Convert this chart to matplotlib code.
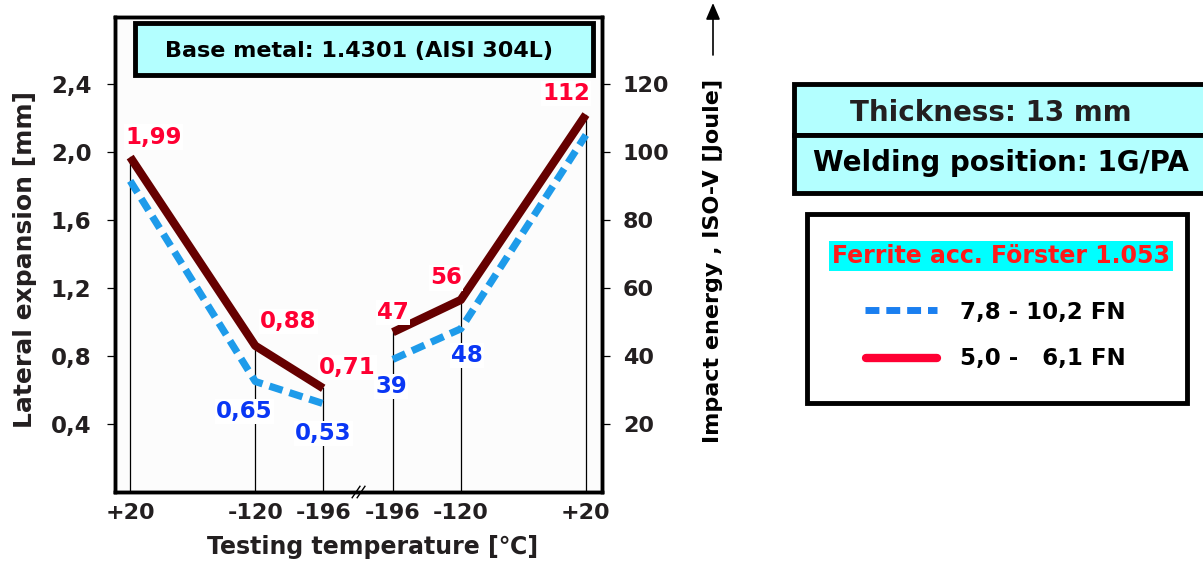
import matplotlib
matplotlib.use("Agg")
import matplotlib.pyplot as plt
from matplotlib.patches import Rectangle, FancyArrowPatch
from matplotlib.lines import Line2D

plt.rcParams['font.family'] = ['DejaVu Sans']
plt.rcParams['font.weight'] = 'bold'

# ---------------- data ----------------
temps_left = [20, -120, -196]          # lateral expansion half
temps_right = [-196, -120, 20]         # impact energy half
tick_labels = ["+20", "-120", "-196", "-196", "-120", "+20"]

lat_high = [1.83, 0.65, 0.52]          # 7,8 - 10,2 FN
lat_low = [1.97, 0.86, 0.61]           # 5,0 - 6,1 FN
lat_high_labels = [None, "0,65", "0,53"]
lat_low_labels = ["1,99", "0,88", "0,71"]

imp_high = [39, 48, 105]               # 7,8 - 10,2 FN
imp_low = [47, 56.5, 111]              # 5,0 - 6,1 FN
imp_high_labels = ["39", "48", None]
imp_low_labels = ["47", "56", "112"]

left_ticks = [0.4, 0.8, 1.2, 1.6, 2.0, 2.4]
left_ticklabels = ["0,4", "0,8", "1,2", "1,6", "2,0", "2,4"]
right_ticks = [20, 40, 60, 80, 100, 120]

# ---------------- style ----------------
RED_LINE = "#660000"
BLUE_LINE = "#1e9bea"
RED_TXT = "#ff0033"
BLUE_TXT = "#0a37f5"
CYAN = "#b3ffff"
DARK = "#231f20"
GAP = 78  # axis gap between the two halves (in temperature units)

# map temperatures to axis coordinates
x_left = [20 - t for t in temps_left]
base_right = x_left[-1] + GAP
x_right = [base_right + (t - temps_right[0]) for t in temps_right]
x_all = x_left + x_right

fig = plt.figure(figsize=(12.03, 5.62), dpi=100)
ax = fig.add_axes([115 / 1203, 70 / 562, 487 / 1203, 475 / 562])
ax.set_facecolor("#fcfcfc")
ax.set_xlim(-17, 528)
ax.set_ylim(0, 2.794)
ax2 = ax.twinx()
ax2.set_ylim(0, 2.794 * 50)

for sp in list(ax.spines.values()) + list(ax2.spines.values()):
    sp.set_linewidth(2.5)

# vertical guide lines
for x, v in zip(x_left, [max(a, b) for a, b in zip(lat_high, lat_low)]):
    ax.plot([x, x], [0, v], color="black", lw=0.9, zorder=1)
for x, v in zip(x_right, [max(a, b) for a, b in zip(imp_high, imp_low)]):
    ax2.plot([x, x], [0, v], color="black", lw=0.9, zorder=1)

# series
ax.plot(x_left, lat_high, color=BLUE_LINE, lw=5.2, ls=(0, (1.9, 1.0)), zorder=3)
ax.plot(x_left, lat_low, color=RED_LINE, lw=6, solid_capstyle="butt", zorder=4)
ax2.plot(x_right, imp_high, color=BLUE_LINE, lw=5.2, ls=(0, (1.9, 1.0)), zorder=3)
ax2.plot(x_right, imp_low, color=RED_LINE, lw=6, solid_capstyle="butt", zorder=4)

lab_fs = 16.5
bbox_w = dict(boxstyle="square,pad=0.05", fc="white", ec="none")
# label offsets in pixels (layout)
off_low_left = [(23, 20), (33, 24), (24, 21)]
off_high_left = [None, (-11, -30), (0, -30)]
off_low_right = [(0, 20), (-15, 22), (-20, 21)]
off_high_right = [(-2, -27), (6, -27), None]

def put(axis, xs, ys, labels, offs, color):
    for x, y, t, o in zip(xs, ys, labels, offs):
        if t is None:
            continue
        axis.annotate(t, (x, y), xytext=o, textcoords="offset pixels",
                      ha="center", va="center", color=color, fontsize=lab_fs,
                      fontweight="bold", bbox=bbox_w, zorder=6)

put(ax, x_left, lat_low, lat_low_labels, off_low_left, RED_TXT)
put(ax, x_left, lat_high, lat_high_labels, off_high_left, BLUE_TXT)
put(ax2, x_right, imp_low, imp_low_labels, off_low_right, RED_TXT)
put(ax2, x_right, imp_high, imp_high_labels, off_high_right, BLUE_TXT)

# ticks
ax.set_xticks(x_all)
ax.set_xticklabels(tick_labels, fontsize=16, fontweight="bold", color=DARK)
ax.tick_params(axis="x", length=0, pad=8)
ax.set_yticks(left_ticks)
ax.set_yticklabels(left_ticklabels, fontsize=16.5, fontweight="bold", color=DARK)
ax.tick_params(axis="y", length=6, width=0.9, direction="out", pad=11)
ax2.set_yticks(right_ticks)
ax2.set_yticklabels([str(v) for v in right_ticks], fontsize=16, fontweight="bold", color=DARK)
ax2.tick_params(axis="y", length=6, width=0.9, direction="out", pad=9)

ax.set_xlabel("Testing temperature [℃]", fontsize=17, fontweight="bold", color=DARK)
ax.xaxis.label.set_va("center")
ax.xaxis.set_label_coords(0.528, -0.116)
ax.set_ylabel("Lateral expansion [mm]", fontsize=18, fontweight="bold", color=DARK)
ax.yaxis.label.set_va("center")
ax.yaxis.set_label_coords(-0.185, 0.49)

# right label and arrow
fig.text(713 / 1203, 1 - 261 / 562, "Impact energy , ISO-V [Joule]", rotation=90,
         ha="center", va="center", fontsize=16, fontweight="bold", color="black")
fig.add_artist(FancyArrowPatch(
    (713 / 1203, 1 - 55 / 562), (713 / 1203, 1 - 3 / 562),
    transform=fig.transFigure, arrowstyle="-|>,head_length=10,head_width=4.3",
    color="black", lw=1.2, shrinkA=0, shrinkB=0))

# axis break mark
for dx in (0, 5):
    ax.plot([0.487 + dx / 487, 0.503 + dx / 487], [-0.012, 0.012],
            transform=ax.transAxes, color="black", lw=1, clip_on=False, zorder=7)

# title box inside plot
ax.text(0.5, 1 - 34 / 475, "Base metal: 1.4301 (AISI 304L)", transform=ax.transAxes,
        ha="center", va="center", fontsize=16, fontweight="bold", color="black",
        zorder=8)
ax.add_patch(Rectangle((20 / 487, 1 - 58 / 475), 458 / 487, 52 / 475,
                       transform=ax.transAxes, fc=CYAN, ec="black", lw=3.5,
                       zorder=7, clip_on=False))

# right info boxes
def fbox(x0, y0, x1, y1, fc, lw=3.5):
    fig.add_artist(Rectangle((x0 / 1203, 1 - y1 / 562), (x1 - x0) / 1203,
                             (y1 - y0) / 562, transform=fig.transFigure,
                             fc=fc, ec="black", lw=lw))

fbox(794, 84, 1210, 135, CYAN)
fbox(794, 135, 1210, 193, CYAN)
fig.text(991 / 1203, 1 - 113 / 562, "Thickness: 13 mm", ha="center", va="center",
         fontsize=20, fontweight="bold", color=DARK)
fig.text(1001 / 1203, 1 - 163 / 562, "Welding position: 1G/PA", ha="center",
         va="center", fontsize=20, fontweight="bold", color="black")

fbox(807, 214, 1187, 403, "white")
fig.text(1001 / 1203, 1 - 256 / 562, "Ferrite acc. Förster 1.053", ha="center",
         va="center", fontsize=17, fontweight="bold", color="#ff1a1a",
         bbox=dict(boxstyle="square,pad=0.12", fc="#00ffff", ec="none"))
fig.add_artist(Line2D([865 / 1203, 937 / 1203], [1 - 310 / 562, 1 - 310 / 562],
                      transform=fig.transFigure, color="#1a7ff0", lw=5,
                      ls=(0, (2.0, 1.0))))
fig.add_artist(Line2D([866 / 1203, 937 / 1203], [1 - 358 / 562, 1 - 358 / 562],
                      transform=fig.transFigure, color=RED_TXT, lw=6,
                      solid_capstyle="round"))
fig.text(960 / 1203, 1 - 312 / 562, "7,8 - 10,2 FN", ha="left", va="center",
         fontsize=16.5, fontweight="bold", color="black")
fig.text(960 / 1203, 1 - 358 / 562, "5,0 -   6,1 FN", ha="left", va="center",
         fontsize=16.5, fontweight="bold", color="black")

fig.savefig("out.png", dpi=100)
